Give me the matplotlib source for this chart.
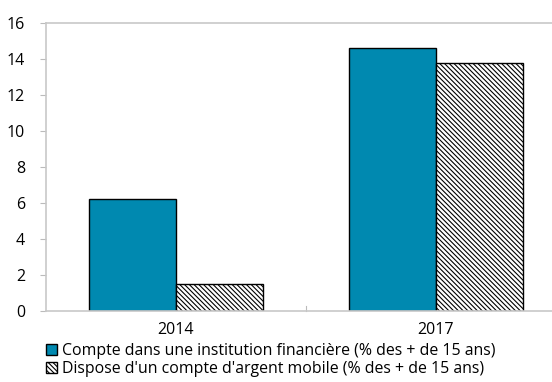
import matplotlib
matplotlib.use("Agg")
import matplotlib.pyplot as plt
import numpy as np

plt.rcParams['font.family'] = ['Open Sans', 'DejaVu Sans']
plt.rcParams['hatch.color'] = '#555555'
plt.rcParams['hatch.linewidth'] = 0.8

years = ["2014", "2017"]
compte_institution = [6.2, 14.6]
argent_mobile = [1.5, 13.8]
series_labels = [
    "Compte dans une institution financière (% des + de 15 ans)",
    "Dispose d'un compte d'argent mobile (% des + de 15 ans)",
]
yticks = [0, 2, 4, 6, 8, 10, 12, 14, 16]

fig = plt.figure(figsize=(5.52, 3.82), dpi=100)
ax = fig.add_axes([46/552, 1 - 311/382, 520/552, 288/382])

x = np.arange(len(years))
w = 1/3
b1 = ax.bar(x - w/2, compte_institution, w, color='#0089B0',
            edgecolor='black', linewidth=1.0, label=series_labels[0])
b2 = ax.bar(x + w/2, argent_mobile, w, color='white', hatch='\\' * 7,
            edgecolor='black', linewidth=1.0, label=series_labels[1])

ax.set_xlim(-0.5, 1.5)
ax.set_ylim(0, 16)
ax.set_yticks(yticks)
ax.set_yticklabels([str(t) for t in yticks])
ax.set_xticks(x)
ax.set_xticklabels(years)
ax.tick_params(axis='x', length=0, labelsize=11.5, pad=8)
ax.tick_params(axis='y', length=4, color='#bbbbbb', labelsize=11.5, pad=11)
# category boundary tick
ax.plot([0.5, 0.5], [0, 0.3], color='#bbbbbb', lw=0.8, clip_on=False)

for s in ['left', 'bottom', 'top']:
    ax.spines[s].set_color('#c8c8c8')
    ax.spines[s].set_linewidth(1.2)
ax.spines['right'].set_visible(False)

fig.legend(handles=[b1, b2], labels=series_labels, loc='upper left',
           bbox_to_anchor=(46/552, 1 - 343/382), frameon=False, fontsize=11.4,
           handlelength=0.7, handleheight=0.7, handletextpad=0.3,
           labelspacing=0.1, borderaxespad=0, borderpad=0)

fig.savefig("out.png", dpi=100)
